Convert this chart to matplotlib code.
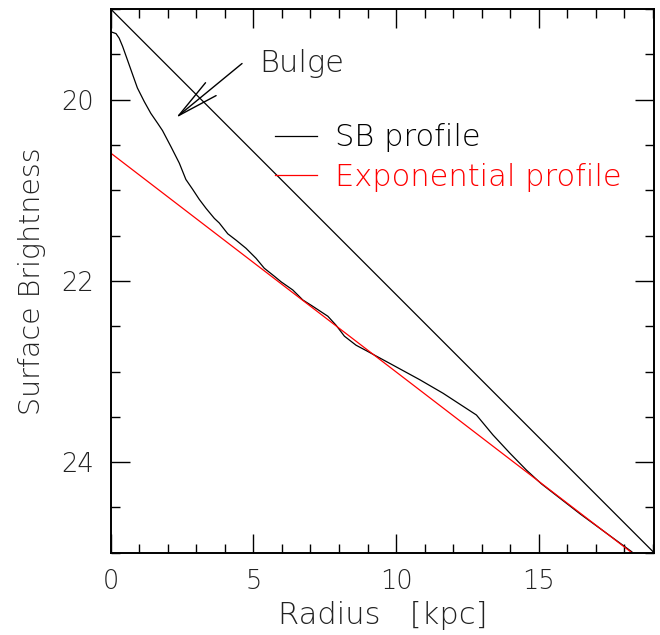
import matplotlib
matplotlib.use("Agg")
import matplotlib.pyplot as plt
from matplotlib.ticker import MultipleLocator

# surface brightness profile (radius in kpc, mag/arcsec^2)
sb_radius = [0.0, 0.18, 0.29, 0.41, 0.58, 0.76, 0.93, 1.17, 1.40, 1.64, 1.81,
             2.11, 2.40, 2.63, 2.87, 3.10, 3.34, 3.63, 3.80, 4.10, 4.39, 4.74,
             5.09, 5.38, 5.74, 5.97, 6.38, 6.73, 7.08, 7.61, 7.90, 8.19, 8.60,
             8.96, 9.31, 9.78, 10.83, 11.65, 12.82, 13.40, 13.99, 14.58, 15.10,
             16.45, 18.27]
sb_mag = [19.25, 19.27, 19.32, 19.41, 19.56, 19.72, 19.87, 20.02, 20.15, 20.26,
          20.34, 20.52, 20.70, 20.88, 20.99, 21.10, 21.20, 21.31, 21.36, 21.48,
          21.55, 21.64, 21.75, 21.86, 21.95, 22.01, 22.10, 22.21, 22.28, 22.39,
          22.49, 22.61, 22.71, 22.77, 22.83, 22.91, 23.09, 23.24, 23.48, 23.70,
          23.90, 24.09, 24.24, 24.57, 24.99]

# exponential disk fit
exp_radius = [0.0, 18.27]
exp_mag = [20.59, 25.0]

# straight reference line
ref_radius = [0.0, 19.05]
ref_mag = [19.0, 25.0]

# bulge arrow (tail, tip)
arrow_tail = (4.60, 19.60)
arrow_tip = (2.28, 20.20)

TXT = "#222222"

fig = plt.figure(figsize=(6.6, 6.35), dpi=100)
ax = fig.add_axes([0.168, 0.1296, 0.823, 0.856])

ax.plot(ref_radius, ref_mag, color="black", lw=0.9, label="_nolegend_")
ax.plot(sb_radius, sb_mag, color="black", lw=0.9, label="SB profile")
ax.plot(exp_radius, exp_mag, color="red", lw=0.9, label="Exponential profile")

ax.annotate("", xy=arrow_tip, xytext=arrow_tail,
            arrowprops=dict(arrowstyle="->,head_length=3.0,head_width=0.6",
                            color="black", lw=1.0, shrinkA=0, shrinkB=0))
ax.text(arrow_tail[0] + 0.6, arrow_tail[1], "Bulge", fontsize=22,
        color=TXT, fontweight="light", va="center", ha="left")

ax.legend(loc="upper left", bbox_to_anchor=(0.303, 0.79), frameon=False,
          handlelength=1.37, handletextpad=0.59, labelspacing=0.34,
          borderpad=0, borderaxespad=0, labelcolor="linecolor",
          prop={"size": 22, "weight": "light"})

ax.set_xlim(0, 19.05)
ax.set_ylim(25, 19)

ax.xaxis.set_major_locator(MultipleLocator(5))
ax.xaxis.set_minor_locator(MultipleLocator(1))
ax.yaxis.set_major_locator(MultipleLocator(2))
ax.yaxis.set_minor_locator(MultipleLocator(0.5))
ax.tick_params(which="both", direction="in", top=True, right=True, width=1.0,
               labelsize=18.5)
ax.tick_params(which="major", length=13.5, pad=12)
ax.tick_params(which="minor", length=6.5)
for lab in ax.get_xticklabels() + ax.get_yticklabels():
    lab.set_fontweight("light")
    lab.set_color(TXT)
for s in ax.spines.values():
    s.set_linewidth(1.4)

ax.set_xlabel("Radius   [kpc]", fontsize=22, fontweight="light", color=TXT,
              labelpad=5)
ax.set_ylabel("Surface Brightness", fontsize=20.5, fontweight="light",
              color=TXT, labelpad=11)

fig.savefig("out.png", dpi=100)
